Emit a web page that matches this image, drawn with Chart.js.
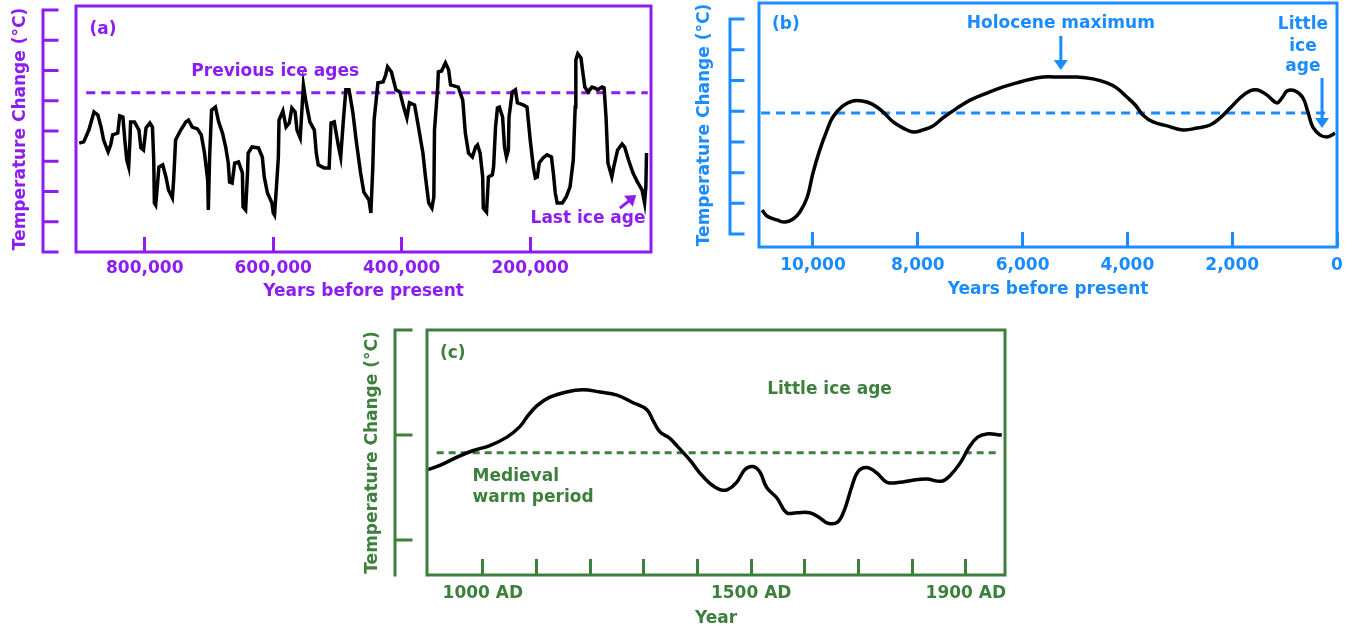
<!DOCTYPE html>
<html>
<head>
<meta charset="utf-8">
<script src="https://cdn.jsdelivr.net/npm/chart.js@4.4.0/dist/chart.umd.min.js"></script>
<style>
  body { margin: 0; background: #fff; width: 1353px; height: 630px; position: relative; overflow: hidden; }
  .panel { position: absolute; }
  #wrapA { left: 0; top: 0; width: 665px; height: 310px; }
  #wrapB { left: 680px; top: 0; width: 673px; height: 310px; }
  #wrapC { left: 350px; top: 318px; width: 670px; height: 312px; }
</style>
</head>
<body>
<div class="panel" id="wrapA"><canvas id="chartA"></canvas></div>
<div class="panel" id="wrapB"><canvas id="chartB"></canvas></div>
<div class="panel" id="wrapC"><canvas id="chartC"></canvas></div>
<script>
// (a) last ~900,000 years, years before present
const yearsA = [902000, 895000, 887000, 879000, 873000, 868000, 864000, 857000, 853000, 850000,
  842000, 839000, 834000, 831000, 828000, 825000, 823000, 822000, 816000, 809000,
  806000, 802000, 798000, 792000, 788000, 786000, 785000, 783000, 780000, 778000,
  772000, 767000, 763000, 757000, 755000, 752000, 744000, 736000, 732000, 726000,
  718000, 712000, 707000, 702000, 701000, 699000, 696000, 690000, 685000, 679000,
  674000, 670000, 668000, 664000, 660000, 654000, 648000, 647000, 643000, 640000,
  639000, 633000, 623000, 617000, 614000, 609000, 602000, 600000, 598000, 595000,
  592000, 591000, 585000, 580000, 575000, 571000, 566000, 563000, 558000, 553000,
  549000, 543000, 536000, 533000, 530000, 521000, 513000, 510000, 505000, 501000,
  498000, 495000, 491000, 487000, 482000, 476000, 471000, 464000, 459000, 451000,
  448000, 445000, 443000, 437000, 429000, 425000, 422000, 416000, 409000, 403000,
  397000, 392000, 388000, 380000, 375000, 367000, 363000, 358000, 353000, 350000,
  349000, 344000, 343000, 338000, 332000, 327000, 324000, 312000, 305000, 301000,
  296000, 290000, 285000, 282000, 278000, 274000, 273000, 268000, 265000, 259000,
  257000, 254000, 251000, 248000, 243000, 240000, 237000, 234000, 233000, 228000,
  223000, 220000, 211000, 205000, 200000, 195000, 192000, 189000, 186000, 180000,
  174000, 167000, 164000, 161000, 158000, 150000, 144000, 138000, 133000, 130000,
  129000, 126000, 121000, 118000, 115000, 110000, 104000, 99000, 95000, 88000,
  85000, 82000, 79000, 73000, 70000, 64000, 57000, 53000, 47000, 40000,
  33000, 26000, 22000, 20000, 19000];
const tempA = [3.60, 3.64, 4.03, 4.63, 4.53, 4.13, 3.70, 3.31, 3.54, 3.87,
  3.93, 4.50, 4.46, 3.70, 3.04, 2.81, 3.70, 4.30, 4.30, 4.03,
  3.44, 3.37, 4.10, 4.26, 4.13, 3.04, 1.62, 1.55, 2.28, 2.81,
  2.88, 2.48, 2.05, 1.79, 2.38, 3.70, 4.03, 4.30, 4.36, 4.13,
  4.07, 3.87, 3.27, 2.38, 1.39, 3.14, 4.69, 4.79, 4.30, 3.93,
  3.47, 2.94, 2.31, 2.28, 2.94, 2.98, 2.61, 1.49, 1.39, 2.61,
  3.27, 3.47, 3.44, 3.14, 2.48, 1.95, 1.62, 1.29, 1.22, 2.15,
  3.14, 4.36, 4.66, 4.13, 4.26, 4.76, 4.63, 4.03, 3.77, 5.52,
  4.96, 4.30, 4.03, 3.27, 2.88, 2.78, 2.78, 4.26, 4.30, 3.80,
  3.44, 3.14, 4.30, 5.36, 5.36, 4.60, 3.70, 2.61, 1.98, 1.72,
  1.29, 2.81, 4.36, 5.59, 5.62, 5.85, 6.12, 5.95, 5.36, 5.29,
  4.79, 4.43, 4.93, 4.86, 4.26, 3.27, 2.48, 1.62, 1.45, 1.82,
  4.03, 5.45, 5.95, 5.98, 6.25, 6.02, 5.52, 5.45, 5.02, 3.93,
  3.27, 3.14, 3.47, 3.54, 3.27, 2.48, 1.45, 1.32, 2.48, 2.55,
  2.81, 4.13, 4.76, 4.79, 4.46, 3.47, 3.14, 3.37, 4.46, 5.29,
  5.36, 4.93, 4.86, 4.79, 3.70, 2.78, 2.45, 2.48, 2.94, 3.11,
  3.21, 3.14, 2.61, 1.95, 1.62, 1.62, 1.82, 2.15, 3.04, 4.79,
  6.35, 6.55, 6.41, 5.92, 5.45, 5.29, 5.45, 5.42, 5.36, 5.45,
  5.42, 4.46, 2.94, 2.48, 2.81, 3.37, 3.57, 3.47, 3.04, 2.61,
  2.31, 2.05, 1.62, 2.15, 3.27];
const prevIceAgeLevel = 5.26;
const ticksA = [800000, 600000, 400000, 200000];

// (b) last ~11,000 years
const yearsB = [10970, 10880, 10690, 10530, 10380, 10250, 10110, 10000, 9870, 9730,
  9620, 9430, 9240, 9060, 8870, 8660, 8470, 8280, 8090, 7900,
  7710, 7520, 7250, 7000, 6680, 6370, 6110, 5920, 5610, 5290,
  4960, 4660, 4390, 4200, 4010, 3850, 3700, 3510, 3240, 2940,
  2670, 2420, 2230, 2040, 1850, 1660, 1510, 1340, 1150, 1050,
  950, 800, 650, 550, 460, 320, 190, 100, 40];
const tempB = [0.78, 0.59, 0.46, 0.39, 0.49, 0.72, 1.20, 1.99, 2.74, 3.39,
  3.81, 4.17, 4.33, 4.33, 4.23, 3.97, 3.65, 3.45, 3.32, 3.39,
  3.52, 3.78, 4.10, 4.36, 4.59, 4.79, 4.92, 5.01, 5.11, 5.11,
  5.11, 5.05, 4.92, 4.75, 4.46, 4.20, 3.87, 3.65, 3.52, 3.39,
  3.45, 3.55, 3.78, 4.10, 4.43, 4.66, 4.69, 4.53, 4.27, 4.43,
  4.66, 4.66, 4.43, 3.94, 3.48, 3.22, 3.16, 3.22, 3.29];
const presentLevelB = 3.94;
const ticksB = [10000, 8000, 6000, 4000, 2000, 0];

// (c) last ~1,000 years, calendar year AD
const yearsC = [898, 920, 952, 981, 1013, 1045, 1069, 1082, 1101, 1125,
  1156, 1186, 1218, 1250, 1279, 1306, 1317, 1330, 1348, 1363,
  1386, 1404, 1423, 1442, 1456, 1473, 1488, 1503, 1516, 1529,
  1548, 1566, 1585, 1609, 1628, 1643, 1661, 1674, 1687, 1699,
  1715, 1734, 1753, 1777, 1801, 1827, 1855, 1870, 1889, 1907,
  1922, 1939, 1967];
const tempC = [0.67, 0.71, 0.79, 0.85, 0.90, 0.98, 1.08, 1.17, 1.28, 1.36,
  1.41, 1.43, 1.41, 1.38, 1.31, 1.24, 1.14, 1.03, 0.97, 0.89,
  0.76, 0.64, 0.54, 0.48, 0.48, 0.55, 0.67, 0.70, 0.65, 0.50,
  0.40, 0.26, 0.26, 0.26, 0.21, 0.16, 0.17, 0.29, 0.50, 0.65,
  0.69, 0.64, 0.55, 0.55, 0.57, 0.58, 0.56, 0.61, 0.73, 0.89,
  0.98, 1.01, 1.00];
const presentLevelC = 0.83;
const ticksC = [1000, 1100, 1200, 1300, 1400, 1500, 1600, 1700, 1800, 1900];
const labelYearsC = [1000, 1500, 1900];

const PURPLE = '#8C1CF0';
const BLUE = '#1A8CFF';
const GREEN = '#3D7F3D';
const FONT = { family: 'DejaVu Sans', size: 17, weight: 'bold' };

// frame, detached temperature axis, notes and arrows
const panelDecor = {
  id: 'panelDecor',
  afterDatasetsDraw(chart, args, o) {
    const { ctx, chartArea: a, scales: { x, y } } = chart;
    ctx.save();
    ctx.strokeStyle = o.color;
    ctx.fillStyle = o.color;
    ctx.lineWidth = 3;
    ctx.lineCap = 'square';
    ctx.strokeRect(a.left, a.top, a.right - a.left, a.bottom - a.top);

    const ax = a.left - o.axisGap;
    ctx.beginPath();
    ctx.moveTo(ax, y.getPixelForValue(o.axisFrom));
    ctx.lineTo(ax, y.getPixelForValue(o.axisTo));
    o.axisTicks.forEach(v => {
      const py = y.getPixelForValue(v);
      ctx.moveTo(ax, py);
      ctx.lineTo(ax + o.tickLen, py);
    });
    ctx.stroke();

    ctx.font = 'bold 17px "DejaVu Sans"';
    ctx.textBaseline = 'middle';
    o.notes.forEach(n => {
      ctx.textAlign = n.align || 'center';
      ctx.fillText(n.text, x.getPixelForValue(n.x), y.getPixelForValue(n.y));
    });

    ctx.lineCap = 'butt';
    o.arrows.forEach(r => {
      const x1 = x.getPixelForValue(r.x1), y1 = y.getPixelForValue(r.y1);
      const x2 = x.getPixelForValue(r.x2), y2 = y.getPixelForValue(r.y2);
      const ang = Math.atan2(y2 - y1, x2 - x1);
      const hl = 10, hw = 7;
      ctx.beginPath();
      ctx.moveTo(x1, y1);
      ctx.lineTo(x2 - Math.cos(ang) * hl * 0.6, y2 - Math.sin(ang) * hl * 0.6);
      ctx.stroke();
      ctx.beginPath();
      ctx.moveTo(x2, y2);
      ctx.lineTo(x2 - Math.cos(ang) * hl - Math.sin(ang) * hw, y2 - Math.sin(ang) * hl + Math.cos(ang) * hw);
      ctx.lineTo(x2 - Math.cos(ang) * hl + Math.sin(ang) * hw, y2 - Math.sin(ang) * hl - Math.cos(ang) * hw);
      ctx.closePath();
      ctx.fill();
    });
    ctx.restore();
  }
};

function buildPanel(id, p) {
  return new Chart(document.getElementById(id), {
    type: 'line',
    data: {
      datasets: [
        {
          data: p.xs.map((v, i) => ({ x: v, y: p.ys[i] })),
          borderColor: '#000', borderWidth: 3.5, pointRadius: 0, tension: p.tension
        },
        {
          data: [{ x: p.refFrom, y: p.ref }, { x: p.refTo, y: p.ref }],
          borderColor: p.color, borderWidth: 3, borderDash: p.dash, pointRadius: 0
        }
      ]
    },
    options: {
      responsive: true,
      maintainAspectRatio: false,
      animation: false,
      layout: { padding: p.padding },
      plugins: {
        legend: { display: false },
        tooltip: { enabled: false },
        panelDecor: p.decor
      },
      scales: {
        x: {
          type: 'linear', reverse: p.reverse, min: p.xMin, max: p.xMax,
          afterBuildTicks: s => { s.ticks = p.tickValues.map(v => ({ value: v })); },
          afterFit: s => { s.height = p.xHeight; s.paddingLeft = 0; s.paddingRight = 0; },
          border: { display: false },
          grid: { drawOnChartArea: false, tickLength: -p.tickLen, tickWidth: 3, tickColor: p.color },
          ticks: {
            autoSkip: false, maxRotation: 0,
            padding: p.tickPad, color: p.color, font: FONT, callback: p.tickText
          },
          title: { display: true, text: p.xTitle, color: p.color, font: FONT, padding: { top: 0, bottom: p.xTitlePad } }
        },
        y: {
          min: p.yMin, max: p.yMax,
          afterFit: s => { s.width = p.yWidth; },
          border: { display: false },
          grid: { display: false },
          ticks: { display: false },
          title: { display: true, text: 'Temperature Change (°C)', color: p.color, font: FONT, padding: { top: p.yTitlePad, bottom: 0 } }
        }
      }
    },
    plugins: [panelDecor]
  });
}

buildPanel('chartA', {
  xs: yearsA, ys: tempA, tension: 0, color: PURPLE, dash: [9, 6],
  ref: prevIceAgeLevel, refFrom: 891000, refTo: 17000,
  padding: { left: 0, top: 6, right: 14, bottom: 0 },
  reverse: true, xMin: 12000, xMax: 907000, tickValues: ticksA, tickLen: 15, tickPad: 21,
  tickText: v => v.toLocaleString('en-US'),
  xHeight: 58, xTitle: 'Years before present', xTitlePad: 8,
  yMin: 0, yMax: 8.13, yWidth: 76, yTitlePad: 10,
  decor: {
    color: PURPLE, axisGap: 33, tickLen: 14, axisFrom: 0, axisTo: 8,
    axisTicks: [0, 1, 2, 3, 4, 5, 6, 7, 8],
    notes: [
      { text: '(a)', x: 886000, y: 7.34, align: 'left' },
      { text: 'Previous ice ages', x: 597000, y: 5.95 },
      { text: 'Last ice age', x: 110000, y: 1.12 }
    ],
    arrows: [{ x1: 60500, y1: 1.45, x2: 35000, y2: 1.88 }]
  }
});

buildPanel('chartB', {
  xs: yearsB, ys: tempB, tension: 0.4, color: BLUE, dash: [9, 6],
  ref: presentLevelB, refFrom: 10990, refTo: 150,
  padding: { left: 0, top: 3, right: 16, bottom: 0 },
  reverse: true, xMin: 0, xMax: 11030, tickValues: ticksB, tickLen: 15, tickPad: 23,
  tickText: v => v.toLocaleString('en-US'),
  xHeight: 63, xTitle: 'Years before present', xTitlePad: 10,
  yMin: -0.42, yMax: 7.52, yWidth: 79, yTitlePad: 14,
  decor: {
    color: BLUE, axisGap: 29, tickLen: 13, axisFrom: 0, axisTo: 7,
    axisTicks: [0, 1, 2, 3, 4, 5, 6, 7],
    notes: [
      { text: '(b)', x: 10780, y: 6.81, align: 'left' },
      { text: 'Holocene maximum', x: 5270, y: 6.84 },
      { text: 'Little', x: 650, y: 6.81 },
      { text: 'ice', x: 650, y: 6.09 },
      { text: 'age', x: 650, y: 5.44 }
    ],
    arrows: [
      { x1: 5270, y1: 6.45, x2: 5270, y2: 5.34 },
      { x1: 286, y1: 5.08, x2: 286, y2: 3.45 }
    ]
  }
});

buildPanel('chartC', {
  xs: yearsC, ys: tempC, tension: 0.4, color: GREEN, dash: [7, 5],
  ref: presentLevelC, refFrom: 914, refTo: 1963,
  padding: { left: 0, top: 12, right: 15, bottom: 0 },
  reverse: false, xMin: 896, xMax: 1973, tickValues: ticksC, tickLen: 16, tickPad: 24,
  tickText: v => (labelYearsC.includes(v) ? v + ' AD' : ''),
  xHeight: 55, xTitle: 'Year', xTitlePad: 1,
  yMin: -0.333, yMax: 2, yWidth: 77, yTitlePad: 12,
  decor: {
    color: GREEN, axisGap: 32, tickLen: 16, axisFrom: -0.333, axisTo: 2,
    axisTicks: [0, 1, 2],
    notes: [
      { text: '(c)', x: 920, y: 1.78, align: 'left' },
      { text: 'Little ice age', x: 1646, y: 1.43 },
      { text: 'Medieval', x: 981, y: 0.60, align: 'left' },
      { text: 'warm period', x: 981, y: 0.40, align: 'left' }
    ],
    arrows: []
  }
});
</script>
</body>
</html>
